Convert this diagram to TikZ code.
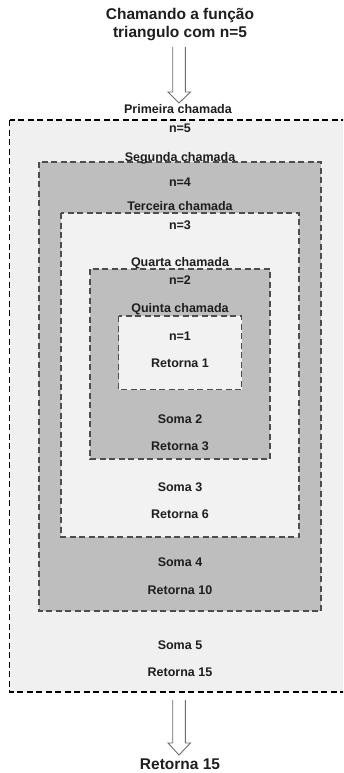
\documentclass[tikz,border=0pt]{standalone}
\usepackage{fontspec}
\setmainfont{Liberation Sans}
\definecolor{outerfill}{HTML}{F0F0F0}
\definecolor{darkfill}{HTML}{BEBEBE}
\definecolor{lightfill}{HTML}{F2F2F2}
\definecolor{innerdash}{HTML}{4D4D4D}
\definecolor{txtc}{HTML}{1E1E1E}
\definecolor{arrowc}{HTML}{6E6E6E}
\tikzset{
  lbl/.style={font=\fontsize{12.5}{14}\selectfont\bfseries, text=txtc, inner sep=0pt, anchor=base},
  ttl/.style={font=\fontsize{15.5}{18}\selectfont\bfseries, text=txtc, inner sep=0pt, anchor=base},
  outerbox/.style={fill=outerfill, draw=black, line width=1.1pt, dash pattern=on 6pt off 3.5pt},
  darkbox/.style={fill=darkfill, draw=innerdash, line width=1.2pt, dash pattern=on 6pt off 3.5pt},
  lightbox/.style={fill=lightfill, draw=innerdash, line width=1.2pt, dash pattern=on 6pt off 3.5pt},
  hollowarrow/.style={draw=arrowc, line width=0.9pt, line join=miter}
}
\begin{document}
\begin{tikzpicture}[x=1pt,y=-1pt]
\useasboundingbox (0,0) rectangle (343,773);
\clip (0,0) rectangle (343,773);
\fill[white] (0,0) rectangle (343,773);
% boxes
\draw[outerbox] (9.5,120) rectangle (352,692);
\draw[darkbox] (39,162) rectangle (321,611);
\draw[lightbox] (61,213) rectangle (299,537);
\draw[darkbox] (90,269) rectangle (270,459);
\draw[lightbox] (118.5,316) rectangle (241.5,389.5);
% title
\node[ttl] (t1) at (180,19.5) {Chamando a função};
\node[ttl] (t2) at (180,38) {triangulo com n=5};
% top arrow
\coordinate (a1) at (179,47);
\draw[hollowarrow] ([xshift=-6.3pt]a1) -- ++(0,45) -- ++(-4.7,0) -- (179,103) -- (190.5,92) -- (185.3,92) -- (185.3,47);
% labels
\node[lbl] (c1) at (178,113.5) {Primeira chamada};
\node[lbl] (n5) at (180,132) {n=5};
\node[lbl] (c2) at (180,161) {Segunda chamada};
\node[lbl] (n4) at (180,186) {n=4};
\node[lbl] (c3) at (180,210.5) {Terceira chamada};
\node[lbl] (n3) at (180,229.5) {n=3};
\node[lbl] (c4) at (180,266) {Quarta chamada};
\node[lbl] (n2) at (180,284.5) {n=2};
\node[lbl] (c5) at (180,312.5) {Quinta chamada};
\node[lbl] (n1) at (180,340.5) {n=1};
\node[lbl] (r1) at (180,367.5) {Retorna 1};
\node[lbl] (s2) at (180,423.5) {Soma 2};
\node[lbl] (r3) at (180,450.5) {Retorna 3};
\node[lbl] (s3) at (180,491.5) {Soma 3};
\node[lbl] (r6) at (180,518.5) {Retorna 6};
\node[lbl] (s4) at (180,566.5) {Soma 4};
\node[lbl] (r10) at (180,594.5) {Retorna 10};
\node[lbl] (s5) at (180,649.5) {Soma 5};
\node[lbl] (r15) at (180,676.5) {Retorna 15};
% bottom arrow
\coordinate (a2) at (179,700);
\draw[hollowarrow] ([xshift=-6.3pt]a2) -- ++(0,43) -- ++(-4.7,0) -- (179,755) -- (190.5,743) -- (185.3,743) -- (185.3,700);
\node[ttl] (fin) at (180,769) {Retorna 15};
\end{tikzpicture}
\end{document}
